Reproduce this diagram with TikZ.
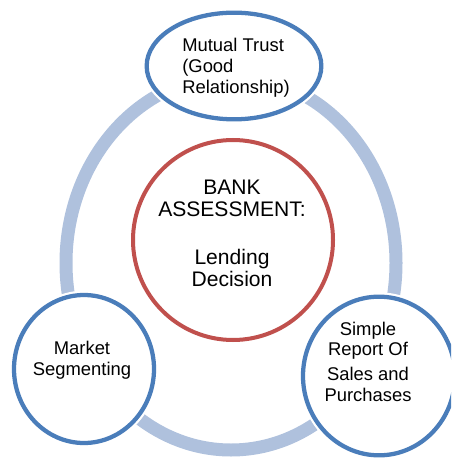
\documentclass[tikz,border=0pt]{standalone}
\usepackage{fontspec}
\setmainfont{Liberation Sans}
\usetikzlibrary{shapes.geometric}
\definecolor{outerblue}{HTML}{4A7DBA}
\definecolor{ringblue}{HTML}{AFC1DD}
\definecolor{centerred}{HTML}{C0504D}
\begin{document}
\begin{tikzpicture}[x=0.75pt,y=-0.75pt,
  outer/.style={ellipse, draw=outerblue, line width=3.2pt, fill=white, inner sep=0pt,
    preaction={draw=white, line width=6.5pt}},
  txt/.style={align=center, font=\fontsize{13.8}{15.75}\selectfont, inner sep=0pt},
  bigtxt/.style={align=center, font=\fontsize{15.8}{16.5}\selectfont, inner sep=0pt}]
\useasboundingbox (0,0) rectangle (451,466);
\clip (0,0) rectangle (451,466);
% ring
\draw[ringblue, line width=9.75pt] (231,263) ellipse[x radius=165, y radius=187];
% centre
\node[circle, draw=centerred, line width=3pt, fill=white, minimum size=150pt] (centre) at (233,240) {};
\node[bigtxt] (centretxt) at (232,233) {BANK\\ASSESSMENT:\\[19.5pt]Lending\\Decision};
% top
\node[outer, minimum width=131pt, minimum height=80pt] (top) at (234,66) {};
\node[txt, align=left] (toptxt) at (236,68) {Mutual Trust\\(Good\\Relationship)};
% left
\node[outer, minimum width=105pt, minimum height=111pt] (left) at (84,369) {};
\node[txt] (lefttxt) at (82,360) {Market\\Segmenting};
% right
\node[outer, minimum width=114pt, minimum height=119pt] (right) at (379,376) {};
\node[txt] (righttxt) at (368,362) {Simple\\[-1pt]Report Of\\[3.3pt]Sales and\\Purchases};
\end{tikzpicture}
\end{document}
